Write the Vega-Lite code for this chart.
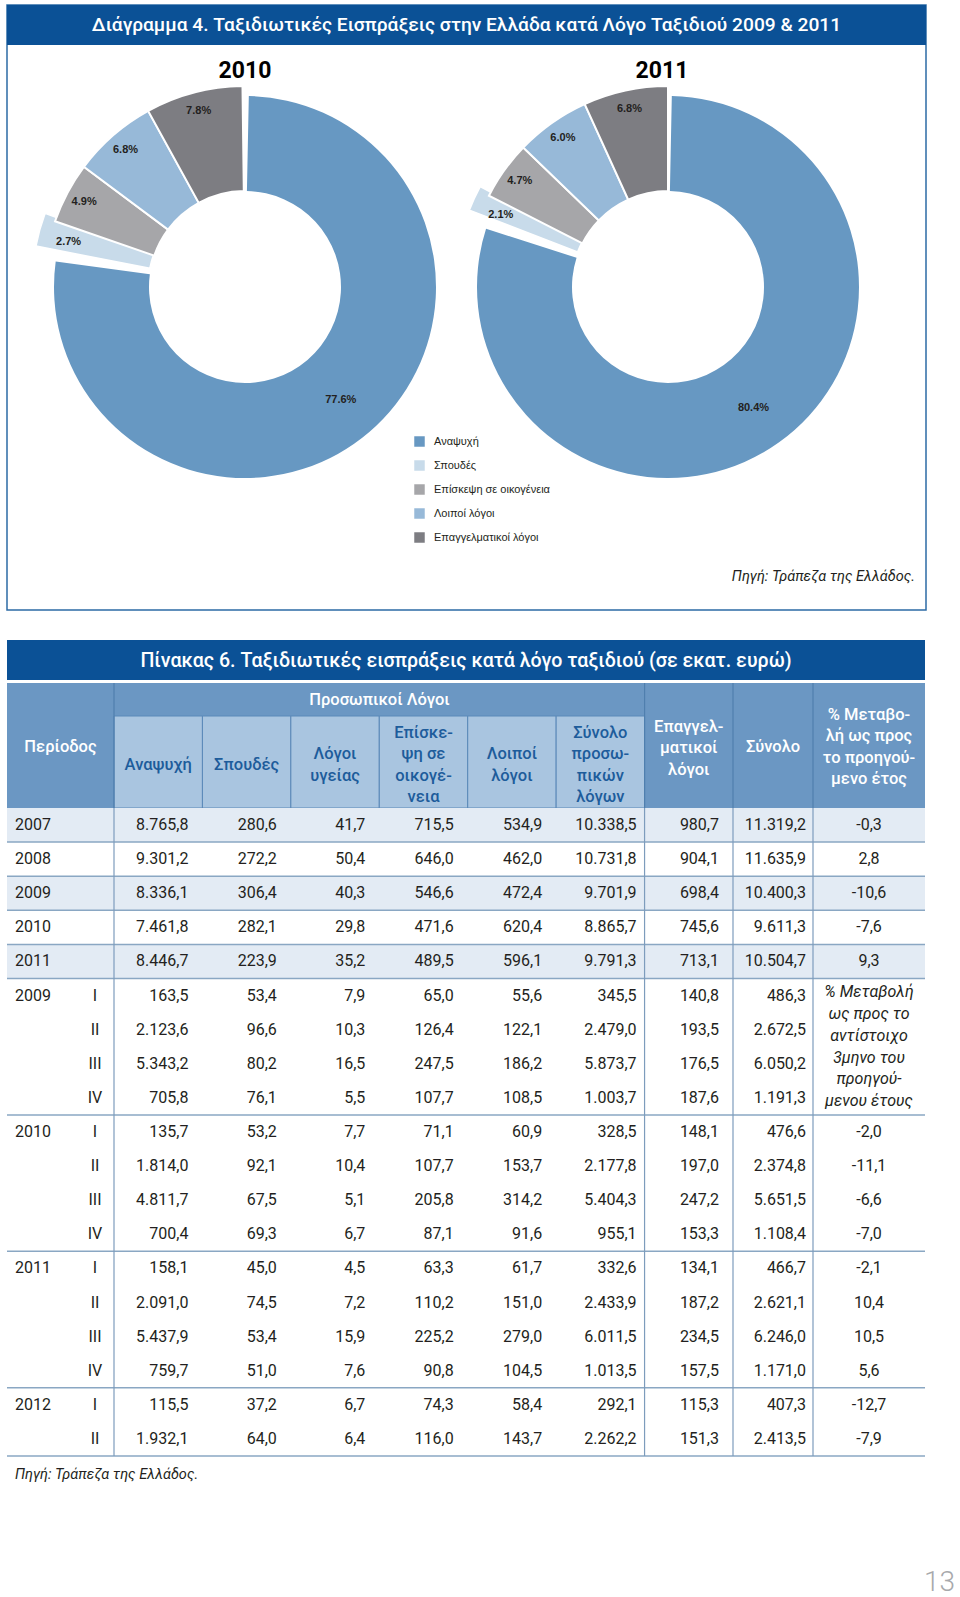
{
  "$schema": "https://vega.github.io/schema/vega-lite/v6.json",
  "width": 960,
  "height": 1597,
  "padding": 0,
  "autosize": {"type": "none"},
  "background": "#ffffff",
  "config": {"view": {"stroke": null}, "axis": {"disable": true}, "font": "Roboto"},
  "datasets": {
    "panels": [
      {"kind": "chart", "title": "Διάγραμμα 4. Ταξιδιωτικές Εισπράξεις στην Ελλάδα κατά Λόγο Ταξιδιού 2009 & 2011", "source": "Πηγή: Τράπεζα της Ελλάδος."},
      {"kind": "table", "title": "Πίνακας 6. Ταξιδιωτικές εισπράξεις κατά λόγο ταξιδιού (σε εκατ. ευρώ)", "source": "Πηγή: Τράπεζα της Ελλάδος."}
    ],
    "donut": [
      {"year": "2010", "reason": "Αναψυχή", "pct": 0.776},
      {"year": "2010", "reason": "Σπουδές", "pct": 0.027},
      {"year": "2010", "reason": "Επίσκεψη σε οικογένεια", "pct": 0.049},
      {"year": "2010", "reason": "Λοιποί λόγοι", "pct": 0.068},
      {"year": "2010", "reason": "Επαγγελματικοί λόγοι", "pct": 0.078},
      {"year": "2011", "reason": "Αναψυχή", "pct": 0.804},
      {"year": "2011", "reason": "Σπουδές", "pct": 0.021},
      {"year": "2011", "reason": "Επίσκεψη σε οικογένεια", "pct": 0.047},
      {"year": "2011", "reason": "Λοιποί λόγοι", "pct": 0.060},
      {"year": "2011", "reason": "Επαγγελματικοί λόγοι", "pct": 0.068}
    ],
    "head": [
      {"col": "period", "level": "full", "label": ["Περίοδος"]},
      {"col": "personal", "level": "top", "label": ["Προσωπικοί Λόγοι"]},
      {"col": "anapsyxi", "level": "sub", "label": ["Αναψυχή"]},
      {"col": "spoudes", "level": "sub", "label": ["Σπουδές"]},
      {"col": "ygeia", "level": "sub", "label": ["Λόγοι", "υγείας"]},
      {"col": "oikogeneia", "level": "sub", "label": ["Επίσκε-", "ψη σε", "οικογέ-", "νεια"]},
      {"col": "loipoi", "level": "sub", "label": ["Λοιποί", "λόγοι"]},
      {"col": "prosopikoi", "level": "sub", "label": ["Σύνολο", "προσω-", "πικών", "λόγων"]},
      {"col": "epaggelmatikoi", "level": "full", "label": ["Επαγγελ-", "ματικοί", "λόγοι"]},
      {"col": "synolo", "level": "full", "label": ["Σύνολο"]},
      {"col": "metaboli", "level": "full", "label": ["% Μεταβο-", "λή ως προς", "το προηγού-", "μενο έτος"]}
    ],
    "rows": [
      {"row": "2007", "year": "2007", "q": "", "anapsyxi": "8.765,8", "spoudes": "280,6", "ygeia": "41,7", "oikogeneia": "715,5", "loipoi": "534,9", "prosopikoi": "10.338,5", "epaggelmatikoi": "980,7", "synolo": "11.319,2", "metaboli": "-0,3"},
      {"row": "2008", "year": "2008", "q": "", "anapsyxi": "9.301,2", "spoudes": "272,2", "ygeia": "50,4", "oikogeneia": "646,0", "loipoi": "462,0", "prosopikoi": "10.731,8", "epaggelmatikoi": "904,1", "synolo": "11.635,9", "metaboli": "2,8"},
      {"row": "2009", "year": "2009", "q": "", "anapsyxi": "8.336,1", "spoudes": "306,4", "ygeia": "40,3", "oikogeneia": "546,6", "loipoi": "472,4", "prosopikoi": "9.701,9", "epaggelmatikoi": "698,4", "synolo": "10.400,3", "metaboli": "-10,6"},
      {"row": "2010", "year": "2010", "q": "", "anapsyxi": "7.461,8", "spoudes": "282,1", "ygeia": "29,8", "oikogeneia": "471,6", "loipoi": "620,4", "prosopikoi": "8.865,7", "epaggelmatikoi": "745,6", "synolo": "9.611,3", "metaboli": "-7,6"},
      {"row": "2011", "year": "2011", "q": "", "anapsyxi": "8.446,7", "spoudes": "223,9", "ygeia": "35,2", "oikogeneia": "489,5", "loipoi": "596,1", "prosopikoi": "9.791,3", "epaggelmatikoi": "713,1", "synolo": "10.504,7", "metaboli": "9,3"},
      {"row": "2009 I", "year": "2009", "q": "I", "anapsyxi": "163,5", "spoudes": "53,4", "ygeia": "7,9", "oikogeneia": "65,0", "loipoi": "55,6", "prosopikoi": "345,5", "epaggelmatikoi": "140,8", "synolo": "486,3", "metaboli": null},
      {"row": "2009 II", "year": "2009", "q": "II", "anapsyxi": "2.123,6", "spoudes": "96,6", "ygeia": "10,3", "oikogeneia": "126,4", "loipoi": "122,1", "prosopikoi": "2.479,0", "epaggelmatikoi": "193,5", "synolo": "2.672,5", "metaboli": null},
      {"row": "2009 III", "year": "2009", "q": "III", "anapsyxi": "5.343,2", "spoudes": "80,2", "ygeia": "16,5", "oikogeneia": "247,5", "loipoi": "186,2", "prosopikoi": "5.873,7", "epaggelmatikoi": "176,5", "synolo": "6.050,2", "metaboli": null},
      {"row": "2009 IV", "year": "2009", "q": "IV", "anapsyxi": "705,8", "spoudes": "76,1", "ygeia": "5,5", "oikogeneia": "107,7", "loipoi": "108,5", "prosopikoi": "1.003,7", "epaggelmatikoi": "187,6", "synolo": "1.191,3", "metaboli": null},
      {"row": "2010 I", "year": "2010", "q": "I", "anapsyxi": "135,7", "spoudes": "53,2", "ygeia": "7,7", "oikogeneia": "71,1", "loipoi": "60,9", "prosopikoi": "328,5", "epaggelmatikoi": "148,1", "synolo": "476,6", "metaboli": "-2,0"},
      {"row": "2010 II", "year": "2010", "q": "II", "anapsyxi": "1.814,0", "spoudes": "92,1", "ygeia": "10,4", "oikogeneia": "107,7", "loipoi": "153,7", "prosopikoi": "2.177,8", "epaggelmatikoi": "197,0", "synolo": "2.374,8", "metaboli": "-11,1"},
      {"row": "2010 III", "year": "2010", "q": "III", "anapsyxi": "4.811,7", "spoudes": "67,5", "ygeia": "5,1", "oikogeneia": "205,8", "loipoi": "314,2", "prosopikoi": "5.404,3", "epaggelmatikoi": "247,2", "synolo": "5.651,5", "metaboli": "-6,6"},
      {"row": "2010 IV", "year": "2010", "q": "IV", "anapsyxi": "700,4", "spoudes": "69,3", "ygeia": "6,7", "oikogeneia": "87,1", "loipoi": "91,6", "prosopikoi": "955,1", "epaggelmatikoi": "153,3", "synolo": "1.108,4", "metaboli": "-7,0"},
      {"row": "2011 I", "year": "2011", "q": "I", "anapsyxi": "158,1", "spoudes": "45,0", "ygeia": "4,5", "oikogeneia": "63,3", "loipoi": "61,7", "prosopikoi": "332,6", "epaggelmatikoi": "134,1", "synolo": "466,7", "metaboli": "-2,1"},
      {"row": "2011 II", "year": "2011", "q": "II", "anapsyxi": "2.091,0", "spoudes": "74,5", "ygeia": "7,2", "oikogeneia": "110,2", "loipoi": "151,0", "prosopikoi": "2.433,9", "epaggelmatikoi": "187,2", "synolo": "2.621,1", "metaboli": "10,4"},
      {"row": "2011 III", "year": "2011", "q": "III", "anapsyxi": "5.437,9", "spoudes": "53,4", "ygeia": "15,9", "oikogeneia": "225,2", "loipoi": "279,0", "prosopikoi": "6.011,5", "epaggelmatikoi": "234,5", "synolo": "6.246,0", "metaboli": "10,5"},
      {"row": "2011 IV", "year": "2011", "q": "IV", "anapsyxi": "759,7", "spoudes": "51,0", "ygeia": "7,6", "oikogeneia": "90,8", "loipoi": "104,5", "prosopikoi": "1.013,5", "epaggelmatikoi": "157,5", "synolo": "1.171,0", "metaboli": "5,6"},
      {"row": "2012 I", "year": "2012", "q": "I", "anapsyxi": "115,5", "spoudes": "37,2", "ygeia": "6,7", "oikogeneia": "74,3", "loipoi": "58,4", "prosopikoi": "292,1", "epaggelmatikoi": "115,3", "synolo": "407,3", "metaboli": "-12,7"},
      {"row": "2012 II", "year": "2012", "q": "II", "anapsyxi": "1.932,1", "spoudes": "64,0", "ygeia": "6,4", "oikogeneia": "116,0", "loipoi": "143,7", "prosopikoi": "2.262,2", "epaggelmatikoi": "151,3", "synolo": "2.413,5", "metaboli": "-7,9"}
    ],
    "note": [
      {"col": "metaboli", "row": "2009 III", "note": ["% Μεταβολή", "ως προς το", "αντίστοιχο", "3μηνο του", "προηγού-", "μενου έτους"]}
    ],
    "page": [{"page": "13"}]
  },
  "resolve": {"scale": {"x": "independent", "y": "independent", "color": "independent", "theta": "independent"}, "legend": {"color": "independent"}},
  "layer": [
    {
      "data": {"name": "panels"},
      "transform": [{"filter": "datum.kind === 'chart'"}],
      "mark": {"type": "rect", "fill": "#ffffff", "fillOpacity": 0, "stroke": "#2d6ba5", "strokeWidth": 1.5},
      "encoding": {
        "x": {"datum": 0, "type": "quantitative", "scale": {"domain": [0, 1], "range": [7, 926]}},
        "x2": {"datum": 1},
        "y": {"datum": 0, "type": "quantitative", "scale": {"domain": [0, 1], "range": [5, 610]}},
        "y2": {"datum": 1}
      }
    },
    {
      "data": {"name": "panels"},
      "transform": [{"filter": "datum.kind === 'chart'"}],
      "mark": {"type": "rect", "color": "#0b5196"},
      "encoding": {
        "x": {"datum": 0, "type": "quantitative", "scale": {"domain": [0, 1], "range": [7, 926]}},
        "x2": {"datum": 1},
        "y": {"datum": 0, "type": "quantitative", "scale": {"domain": [0, 1], "range": [5, 45]}},
        "y2": {"datum": 1}
      }
    },
    {
      "data": {"name": "panels"},
      "transform": [{"filter": "datum.kind === 'chart'"}],
      "mark": {"type": "text", "color": "#ffffff", "font": "Roboto", "fontSize": 19.2, "fontWeight": 500, "align": "center", "baseline": "middle"},
      "encoding": {
        "x": {"datum": 0.5, "type": "quantitative", "scale": {"domain": [0, 1], "range": [7, 926]}},
        "y": {"datum": 0.5, "type": "quantitative", "scale": {"domain": [0, 1], "range": [5, 45]}},
        "text": {"field": "title", "type": "nominal"}
      }
    },
    {
      "data": {"name": "donut"},
      "transform": [{"filter": "datum.reason === 'Αναψυχή'"}],
      "mark": {"type": "text", "color": "#000000", "font": "Roboto", "fontSize": 23, "fontWeight": "bold", "align": "center", "baseline": "middle"},
      "encoding": {
        "x": {"field": "year", "type": "nominal", "scale": {"type": "point", "domain": ["2010", "2011"], "range": [245, 662], "padding": 0}},
        "y": {"field": "year", "type": "nominal", "scale": {"type": "point", "domain": ["2010", "2011"], "range": [71, 71], "padding": 0}},
        "text": {"field": "year", "type": "nominal"}
      }
    },
    {
      "data": {"name": "donut"},
      "transform": [{"stack": "pct", "groupby": ["year"], "as": ["t0", "t1"]}, {"filter": "datum.reason === 'Αναψυχή'"}],
      "mark": {"type": "arc", "radius": 191, "radius2": 96, "thetaOffset": 0.02, "theta2Offset": -0.03},
      "encoding": {
        "x": {"field": "year", "type": "nominal", "scale": {"type": "point", "domain": ["2010", "2011"], "range": [245, 668], "padding": 0}},
        "y": {"field": "year", "type": "nominal", "scale": {"type": "point", "domain": ["2010", "2011"], "range": [287, 287], "padding": 0}},
        "theta": {"field": "t0", "type": "quantitative", "stack": null, "scale": {"domain": [0, 1], "range": [0, 6.283185307179586]}},
        "theta2": {"field": "t1"},
        "color": {
          "field": "reason", "type": "nominal",
          "scale": {"domain": ["Αναψυχή", "Σπουδές", "Επίσκεψη σε οικογένεια", "Λοιποί λόγοι", "Επαγγελματικοί λόγοι"], "range": ["#6798c2", "#c8dbea", "#a6a6a9", "#97b9d8", "#7d7d82"]},
          "legend": {"orient": "none", "legendX": 414, "legendY": 436, "title": null, "padding": 0, "symbolType": "square", "symbolSize": 110, "symbolStrokeWidth": 0, "symbolOpacity": 1, "labelFont": "Liberation Sans", "labelFontSize": 11, "labelColor": "#231f20", "labelOffset": 9, "rowPadding": 12}
        }
      }
    },
    {
      "data": {"name": "donut"},
      "transform": [{"stack": "pct", "groupby": ["year"], "as": ["t0", "t1"]}, {"filter": "datum.reason === 'Σπουδές'"}],
      "mark": {"type": "arc", "radius": 213, "radius2": 97, "stroke": "#ffffff", "strokeWidth": 1.5, "thetaOffset": 0.03, "theta2Offset": 0.02},
      "encoding": {
        "x": {"field": "year", "type": "nominal", "scale": {"type": "point", "domain": ["2010", "2011"], "range": [245, 668], "padding": 0}},
        "y": {"field": "year", "type": "nominal", "scale": {"type": "point", "domain": ["2010", "2011"], "range": [287, 287], "padding": 0}},
        "theta": {"field": "t0", "type": "quantitative", "stack": null, "scale": {"domain": [0, 1], "range": [0, 6.283185307179586]}},
        "theta2": {"field": "t1"},
        "color": {
          "field": "reason", "type": "nominal", "legend": null,
          "scale": {"domain": ["Αναψυχή", "Σπουδές", "Επίσκεψη σε οικογένεια", "Λοιποί λόγοι", "Επαγγελματικοί λόγοι"], "range": ["#6798c2", "#c8dbea", "#a6a6a9", "#97b9d8", "#7d7d82"]}
        }
      }
    },
    {
      "data": {"name": "donut"},
      "transform": [{"stack": "pct", "groupby": ["year"], "as": ["t0", "t1"]}, {"filter": "datum.reason !== 'Σπουδές' && datum.reason !== 'Αναψυχή'"}],
      "mark": {"type": "arc", "radius": 201, "radius2": 96, "stroke": "#ffffff", "strokeWidth": 2},
      "encoding": {
        "x": {"field": "year", "type": "nominal", "scale": {"type": "point", "domain": ["2010", "2011"], "range": [245, 668], "padding": 0}},
        "y": {"field": "year", "type": "nominal", "scale": {"type": "point", "domain": ["2010", "2011"], "range": [287, 287], "padding": 0}},
        "theta": {"field": "t0", "type": "quantitative", "stack": null, "scale": {"domain": [0, 1], "range": [0, 6.283185307179586]}},
        "theta2": {"field": "t1"},
        "color": {
          "field": "reason", "type": "nominal", "legend": null,
          "scale": {"domain": ["Αναψυχή", "Σπουδές", "Επίσκεψη σε οικογένεια", "Λοιποί λόγοι", "Επαγγελματικοί λόγοι"], "range": ["#6798c2", "#c8dbea", "#a6a6a9", "#97b9d8", "#7d7d82"]}
        }
      }
    },
    {
      "data": {"name": "donut"},
      "transform": [{"filter": "datum.year === '2010'"}, {"stack": "pct", "groupby": ["year"], "as": ["t0", "t1"]}],
      "mark": {"type": "text", "radius": 182, "font": "Liberation Sans", "fontWeight": "bold", "fontSize": 11, "color": "#231f20", "align": "center", "baseline": "middle"},
      "encoding": {
        "x": {"field": "year", "type": "nominal", "scale": {"type": "point", "domain": ["2010", "2011"], "range": [245, 668], "padding": 0}},
        "y": {"field": "year", "type": "nominal", "scale": {"type": "point", "domain": ["2010", "2011"], "range": [287, 287], "padding": 0}},
        "theta": {"field": "pct", "type": "quantitative", "stack": true, "scale": {"domain": [0, 1], "range": [0, 6.283185307179586]}},
        "order": {"field": "t0", "type": "quantitative"},
        "text": {"field": "pct", "type": "quantitative", "format": ".1%"},
        "opacity": {"condition": {"test": "datum.reason === 'Αναψυχή'", "value": 0}, "value": 1}
      }
    },
    {
      "data": {"name": "donut"},
      "transform": [{"filter": "datum.year === '2010'"}, {"stack": "pct", "groupby": ["year"], "as": ["t0", "t1"]}],
      "mark": {"type": "text", "radius": 148, "font": "Liberation Sans", "fontWeight": "bold", "fontSize": 11, "color": "#231f20", "align": "center", "baseline": "middle"},
      "encoding": {
        "x": {"field": "year", "type": "nominal", "scale": {"type": "point", "domain": ["2010", "2011"], "range": [245, 668], "padding": 0}},
        "y": {"field": "year", "type": "nominal", "scale": {"type": "point", "domain": ["2010", "2011"], "range": [287, 287], "padding": 0}},
        "theta": {"field": "pct", "type": "quantitative", "stack": true, "scale": {"domain": [0, 1], "range": [0, 6.283185307179586]}},
        "order": {"field": "t0", "type": "quantitative"},
        "text": {"field": "pct", "type": "quantitative", "format": ".1%"},
        "opacity": {"condition": {"test": "datum.reason === 'Αναψυχή'", "value": 1}, "value": 0}
      }
    },
    {
      "data": {"name": "donut"},
      "transform": [{"filter": "datum.year === '2011'"}, {"stack": "pct", "groupby": ["year"], "as": ["t0", "t1"]}],
      "mark": {"type": "text", "radius": 182, "font": "Liberation Sans", "fontWeight": "bold", "fontSize": 11, "color": "#231f20", "align": "center", "baseline": "middle"},
      "encoding": {
        "x": {"field": "year", "type": "nominal", "scale": {"type": "point", "domain": ["2010", "2011"], "range": [245, 668], "padding": 0}},
        "y": {"field": "year", "type": "nominal", "scale": {"type": "point", "domain": ["2010", "2011"], "range": [287, 287], "padding": 0}},
        "theta": {"field": "pct", "type": "quantitative", "stack": true, "scale": {"domain": [0, 1], "range": [0, 6.283185307179586]}},
        "order": {"field": "t0", "type": "quantitative"},
        "text": {"field": "pct", "type": "quantitative", "format": ".1%"},
        "opacity": {"condition": {"test": "datum.reason === 'Αναψυχή'", "value": 0}, "value": 1}
      }
    },
    {
      "data": {"name": "donut"},
      "transform": [{"filter": "datum.year === '2011'"}, {"stack": "pct", "groupby": ["year"], "as": ["t0", "t1"]}],
      "mark": {"type": "text", "radius": 148, "font": "Liberation Sans", "fontWeight": "bold", "fontSize": 11, "color": "#231f20", "align": "center", "baseline": "middle"},
      "encoding": {
        "x": {"field": "year", "type": "nominal", "scale": {"type": "point", "domain": ["2010", "2011"], "range": [245, 668], "padding": 0}},
        "y": {"field": "year", "type": "nominal", "scale": {"type": "point", "domain": ["2010", "2011"], "range": [287, 287], "padding": 0}},
        "theta": {"field": "pct", "type": "quantitative", "stack": true, "scale": {"domain": [0, 1], "range": [0, 6.283185307179586]}},
        "order": {"field": "t0", "type": "quantitative"},
        "text": {"field": "pct", "type": "quantitative", "format": ".1%"},
        "opacity": {"condition": {"test": "datum.reason === 'Αναψυχή'", "value": 1}, "value": 0}
      }
    },
    {
      "data": {"name": "panels"},
      "transform": [{"filter": "datum.kind === 'chart'"}],
      "mark": {"type": "text", "color": "#231f20", "font": "Roboto", "fontSize": 14.5, "fontStyle": "italic", "align": "right", "baseline": "middle", "dx": -11, "dy": -33},
      "encoding": {
        "x": {"datum": 1, "type": "quantitative", "scale": {"domain": [0, 1], "range": [7, 926]}},
        "y": {"datum": 1, "type": "quantitative", "scale": {"domain": [0, 1], "range": [5, 610]}},
        "text": {"field": "source", "type": "nominal"}
      }
    },
    {
      "data": {"name": "panels"},
      "transform": [{"filter": "datum.kind === 'table'"}],
      "mark": {"type": "rect", "color": "#0b5196"},
      "encoding": {
        "x": {"datum": 0, "type": "quantitative", "scale": {"domain": [0, 1], "range": [7, 925]}},
        "x2": {"datum": 1},
        "y": {"datum": 0, "type": "quantitative", "scale": {"domain": [0, 1], "range": [640, 680]}},
        "y2": {"datum": 1}
      }
    },
    {
      "data": {"name": "panels"},
      "transform": [{"filter": "datum.kind === 'table'"}],
      "mark": {"type": "text", "color": "#ffffff", "font": "Roboto", "fontSize": 19.6, "fontWeight": 500, "align": "center", "baseline": "middle"},
      "encoding": {
        "x": {"datum": 0.5, "type": "quantitative", "scale": {"domain": [0, 1], "range": [7, 925]}},
        "y": {"datum": 0.5, "type": "quantitative", "scale": {"domain": [0, 1], "range": [640, 681]}},
        "text": {"field": "title", "type": "nominal"}
      }
    },
    {
      "data": {"name": "panels"},
      "transform": [{"filter": "datum.kind === 'table'"}],
      "mark": {"type": "rect", "color": "#6b97c3"},
      "encoding": {
        "x": {"datum": 0, "type": "quantitative", "scale": {"domain": [0, 1], "range": [7, 925]}},
        "x2": {"datum": 1},
        "y": {"datum": 0, "type": "quantitative", "scale": {"domain": [0, 1], "range": [683, 808]}},
        "y2": {"datum": 1}
      }
    },
    {
      "data": {"name": "head"},
      "transform": [{"filter": "datum.level === 'sub'"}],
      "mark": {"type": "rect", "color": "#a9c5e0", "stroke": "#5a89b8", "strokeWidth": 1},
      "encoding": {
        "x": {"field": "col", "type": "nominal", "scale": {"type": "band", "domain": ["anapsyxi", "spoudes", "ygeia", "oikogeneia", "loipoi", "prosopikoi", "epaggelmatikoi"], "range": [114, 733], "paddingInner": 0, "paddingOuter": 0}},
        "y": {"field": "level", "type": "nominal", "scale": {"type": "band", "domain": ["sub"], "range": [716, 808], "paddingInner": 0, "paddingOuter": 0}}
      }
    },
    {
      "data": {"name": "head"},
      "transform": [{"filter": "datum.col === 'anapsyxi' || datum.col === 'epaggelmatikoi'"}],
      "mark": {"type": "rule", "color": "#4f7fae", "strokeWidth": 1.2},
      "encoding": {
        "x": {"field": "col", "type": "nominal", "bandPosition": 0, "scale": {"type": "band", "domain": ["anapsyxi", "spoudes", "ygeia", "oikogeneia", "loipoi", "prosopikoi", "epaggelmatikoi"], "range": [114, 733], "paddingInner": 0, "paddingOuter": 0}},
        "y": {"datum": 0, "type": "quantitative", "scale": {"domain": [0, 1], "range": [683, 808]}},
        "y2": {"datum": 1}
      }
    },
    {
      "data": {"name": "head"},
      "transform": [{"filter": "datum.col === 'synolo' || datum.col === 'metaboli'"}],
      "mark": {"type": "rule", "color": "#4f7fae", "strokeWidth": 1.2},
      "encoding": {
        "x": {"field": "col", "type": "nominal", "scale": {"type": "point", "domain": ["synolo", "metaboli"], "range": [733, 813], "padding": 0}},
        "y": {"datum": 0, "type": "quantitative", "scale": {"domain": [0, 1], "range": [683, 808]}},
        "y2": {"datum": 1}
      }
    },
    {
      "data": {"name": "head"},
      "transform": [{"filter": "datum.level === 'sub' || datum.col === 'epaggelmatikoi'"}],
      "mark": {"type": "text", "font": "Roboto", "fontSize": 16.5, "fontWeight": 500, "lineHeight": 21.5, "align": "center", "baseline": "middle", "dy": {"expr": "-(length(datum.label) - 1) * 10.75"}},
      "encoding": {
        "x": {"field": "col", "type": "nominal", "scale": {"type": "band", "domain": ["anapsyxi", "spoudes", "ygeia", "oikogeneia", "loipoi", "prosopikoi", "epaggelmatikoi"], "range": [114, 733], "paddingInner": 0, "paddingOuter": 0}},
        "y": {"field": "level", "type": "nominal", "scale": {"type": "point", "domain": ["full", "sub"], "range": [748, 765], "padding": 0}},
        "color": {"field": "level", "type": "nominal", "legend": null, "scale": {"domain": ["full", "sub"], "range": ["#ffffff", "#1d5c9b"]}},
        "text": {"field": "label", "type": "nominal"}
      }
    },
    {
      "data": {"name": "head"},
      "transform": [{"filter": "datum.col === 'synolo'"}],
      "mark": {"type": "text", "font": "Roboto", "fontSize": 16.5, "fontWeight": 500, "lineHeight": 21.5, "align": "center", "baseline": "middle", "color": "#ffffff"},
      "encoding": {
        "x": {"field": "col", "type": "nominal", "scale": {"type": "band", "domain": ["synolo"], "range": [733, 813], "paddingInner": 0, "paddingOuter": 0}},
        "y": {"field": "level", "type": "nominal", "scale": {"type": "point", "domain": ["full"], "range": [747, 747], "padding": 0}},
        "text": {"field": "label", "type": "nominal"}
      }
    },
    {
      "data": {"name": "head"},
      "transform": [{"filter": "datum.col === 'metaboli'"}],
      "mark": {"type": "text", "font": "Roboto", "fontSize": 16.5, "fontWeight": 500, "lineHeight": 21.5, "align": "center", "baseline": "middle", "color": "#ffffff", "dy": {"expr": "-(length(datum.label) - 1) * 10.75"}},
      "encoding": {
        "x": {"field": "col", "type": "nominal", "scale": {"type": "band", "domain": ["metaboli"], "range": [813, 925], "paddingInner": 0, "paddingOuter": 0}},
        "y": {"field": "level", "type": "nominal", "scale": {"type": "point", "domain": ["full"], "range": [747, 747], "padding": 0}},
        "text": {"field": "label", "type": "nominal"}
      }
    },
    {
      "data": {"name": "head"},
      "transform": [{"filter": "datum.col === 'period'"}],
      "mark": {"type": "text", "font": "Roboto", "fontSize": 16.5, "fontWeight": 500, "lineHeight": 21.5, "align": "center", "baseline": "middle", "color": "#ffffff"},
      "encoding": {
        "x": {"field": "col", "type": "nominal", "scale": {"type": "band", "domain": ["period"], "range": [7, 114], "paddingInner": 0, "paddingOuter": 0}},
        "y": {"field": "level", "type": "nominal", "scale": {"type": "point", "domain": ["full"], "range": [747, 747], "padding": 0}},
        "text": {"field": "label", "type": "nominal"}
      }
    },
    {
      "data": {"name": "head"},
      "transform": [{"filter": "datum.col === 'personal'"}],
      "mark": {"type": "text", "font": "Roboto", "fontSize": 16.5, "fontWeight": 500, "align": "center", "baseline": "middle", "color": "#ffffff"},
      "encoding": {
        "x": {"field": "col", "type": "nominal", "scale": {"type": "band", "domain": ["personal"], "range": [114, 645], "paddingInner": 0, "paddingOuter": 0}},
        "y": {"field": "level", "type": "nominal", "scale": {"type": "point", "domain": ["top"], "range": [700, 700], "padding": 0}},
        "text": {"field": "label", "type": "nominal"}
      }
    },
    {
      "data": {"name": "rows"},
      "transform": [{"filter": "datum.q === '' && (datum.year === '2007' || datum.year === '2009' || datum.year === '2011')"}],
      "mark": {"type": "rect", "color": "#e3ebf4"},
      "encoding": {
        "x": {"datum": 0, "type": "quantitative", "scale": {"domain": [0, 1], "range": [7, 925]}},
        "x2": {"datum": 1},
        "y": {"field": "row", "type": "nominal", "scale": {"type": "band", "domain": ["2007", "2008", "2009", "2010", "2011", "2009 I", "2009 II", "2009 III", "2009 IV", "2010 I", "2010 II", "2010 III", "2010 IV", "2011 I", "2011 II", "2011 III", "2011 IV", "2012 I", "2012 II"], "range": [808, 1456], "paddingInner": 0, "paddingOuter": 0}}
      }
    },
    {
      "data": {"name": "rows"},
      "transform": [{"filter": "datum.q === '' || datum.q === 'IV' || datum.row === '2012 II'"}],
      "mark": {"type": "rule", "color": "#8aa7c3", "strokeWidth": 1.5},
      "encoding": {
        "x": {"datum": 0, "type": "quantitative", "scale": {"domain": [0, 1], "range": [7, 925]}},
        "x2": {"datum": 1},
        "y": {"field": "row", "type": "nominal", "bandPosition": 1, "scale": {"type": "band", "domain": ["2007", "2008", "2009", "2010", "2011", "2009 I", "2009 II", "2009 III", "2009 IV", "2010 I", "2010 II", "2010 III", "2010 IV", "2011 I", "2011 II", "2011 III", "2011 IV", "2012 I", "2012 II"], "range": [808, 1456], "paddingInner": 0, "paddingOuter": 0}}
      }
    },
    {
      "data": {"name": "head"},
      "transform": [{"filter": "datum.col === 'anapsyxi' || datum.col === 'epaggelmatikoi'"}],
      "mark": {"type": "rule", "color": "#7d9cbc", "strokeWidth": 1.2},
      "encoding": {
        "x": {"field": "col", "type": "nominal", "bandPosition": 0, "scale": {"type": "band", "domain": ["anapsyxi", "spoudes", "ygeia", "oikogeneia", "loipoi", "prosopikoi", "epaggelmatikoi"], "range": [114, 733], "paddingInner": 0, "paddingOuter": 0}},
        "y": {"datum": 0, "type": "quantitative", "scale": {"domain": [0, 1], "range": [808, 1456]}},
        "y2": {"datum": 1}
      }
    },
    {
      "data": {"name": "head"},
      "transform": [{"filter": "datum.col === 'synolo' || datum.col === 'metaboli'"}],
      "mark": {"type": "rule", "color": "#7d9cbc", "strokeWidth": 1.2},
      "encoding": {
        "x": {"field": "col", "type": "nominal", "scale": {"type": "point", "domain": ["synolo", "metaboli"], "range": [733, 813], "padding": 0}},
        "y": {"datum": 0, "type": "quantitative", "scale": {"domain": [0, 1], "range": [808, 1456]}},
        "y2": {"datum": 1}
      }
    },
    {
      "data": {"name": "rows"},
      "transform": [
        {"fold": ["year", "q"], "as": ["part", "lbl"]},
        {"filter": "(datum.part === 'year' && (datum.q === '' || datum.q === 'I')) || (datum.part === 'q' && datum.q !== '')"}
      ],
      "mark": {"type": "text", "font": "Roboto", "fontSize": 16, "color": "#231f20", "align": "center", "baseline": "middle"},
      "encoding": {
        "x": {"field": "part", "type": "nominal", "scale": {"type": "point", "domain": ["year", "q"], "range": [33, 95], "padding": 0}},
        "y": {"field": "row", "type": "nominal", "scale": {"type": "band", "domain": ["2007", "2008", "2009", "2010", "2011", "2009 I", "2009 II", "2009 III", "2009 IV", "2010 I", "2010 II", "2010 III", "2010 IV", "2011 I", "2011 II", "2011 III", "2011 IV", "2012 I", "2012 II"], "range": [808, 1456], "paddingInner": 0, "paddingOuter": 0}},
        "text": {"field": "lbl", "type": "nominal"}
      }
    },
    {
      "data": {"name": "rows"},
      "transform": [{"fold": ["anapsyxi", "spoudes", "ygeia", "oikogeneia", "loipoi", "epaggelmatikoi"], "as": ["col", "val"]}],
      "mark": {"type": "text", "font": "Roboto", "fontSize": 16, "color": "#231f20", "align": "right", "baseline": "middle", "dx": -14},
      "encoding": {
        "x": {"field": "col", "type": "nominal", "bandPosition": 1, "scale": {"type": "band", "domain": ["anapsyxi", "spoudes", "ygeia", "oikogeneia", "loipoi", "prosopikoi", "epaggelmatikoi"], "range": [114, 733], "paddingInner": 0, "paddingOuter": 0}},
        "y": {"field": "row", "type": "nominal", "scale": {"type": "band", "domain": ["2007", "2008", "2009", "2010", "2011", "2009 I", "2009 II", "2009 III", "2009 IV", "2010 I", "2010 II", "2010 III", "2010 IV", "2011 I", "2011 II", "2011 III", "2011 IV", "2012 I", "2012 II"], "range": [808, 1456], "paddingInner": 0, "paddingOuter": 0}},
        "text": {"field": "val", "type": "nominal"}
      }
    },
    {
      "data": {"name": "rows"},
      "transform": [{"fold": ["prosopikoi"], "as": ["col", "val"]}],
      "mark": {"type": "text", "font": "Roboto", "fontSize": 16, "color": "#231f20", "align": "right", "baseline": "middle", "dx": -8},
      "encoding": {
        "x": {"field": "col", "type": "nominal", "bandPosition": 1, "scale": {"type": "band", "domain": ["anapsyxi", "spoudes", "ygeia", "oikogeneia", "loipoi", "prosopikoi", "epaggelmatikoi"], "range": [114, 733], "paddingInner": 0, "paddingOuter": 0}},
        "y": {"field": "row", "type": "nominal", "scale": {"type": "band", "domain": ["2007", "2008", "2009", "2010", "2011", "2009 I", "2009 II", "2009 III", "2009 IV", "2010 I", "2010 II", "2010 III", "2010 IV", "2011 I", "2011 II", "2011 III", "2011 IV", "2012 I", "2012 II"], "range": [808, 1456], "paddingInner": 0, "paddingOuter": 0}},
        "text": {"field": "val", "type": "nominal"}
      }
    },
    {
      "data": {"name": "rows"},
      "transform": [{"fold": ["synolo"], "as": ["col", "val"]}],
      "mark": {"type": "text", "font": "Roboto", "fontSize": 16, "color": "#231f20", "align": "right", "baseline": "middle", "dx": -7},
      "encoding": {
        "x": {"field": "col", "type": "nominal", "bandPosition": 1, "scale": {"type": "band", "domain": ["synolo"], "range": [733, 813], "paddingInner": 0, "paddingOuter": 0}},
        "y": {"field": "row", "type": "nominal", "scale": {"type": "band", "domain": ["2007", "2008", "2009", "2010", "2011", "2009 I", "2009 II", "2009 III", "2009 IV", "2010 I", "2010 II", "2010 III", "2010 IV", "2011 I", "2011 II", "2011 III", "2011 IV", "2012 I", "2012 II"], "range": [808, 1456], "paddingInner": 0, "paddingOuter": 0}},
        "text": {"field": "val", "type": "nominal"}
      }
    },
    {
      "data": {"name": "rows"},
      "transform": [{"fold": ["metaboli"], "as": ["col", "val"]}, {"filter": "datum.val != null"}],
      "mark": {"type": "text", "font": "Roboto", "fontSize": 16, "color": "#231f20", "align": "center", "baseline": "middle"},
      "encoding": {
        "x": {"field": "col", "type": "nominal", "scale": {"type": "band", "domain": ["metaboli"], "range": [813, 925], "paddingInner": 0, "paddingOuter": 0}},
        "y": {"field": "row", "type": "nominal", "scale": {"type": "band", "domain": ["2007", "2008", "2009", "2010", "2011", "2009 I", "2009 II", "2009 III", "2009 IV", "2010 I", "2010 II", "2010 III", "2010 IV", "2011 I", "2011 II", "2011 III", "2011 IV", "2012 I", "2012 II"], "range": [808, 1456], "paddingInner": 0, "paddingOuter": 0}},
        "text": {"field": "val", "type": "nominal"}
      }
    },
    {
      "data": {"name": "note"},
      "mark": {"type": "text", "font": "Roboto", "fontSize": 16, "fontStyle": "italic", "lineHeight": 21.7, "color": "#231f20", "align": "center", "baseline": "middle", "dy": {"expr": "-(length(datum.note) - 1) * 10.85"}},
      "encoding": {
        "x": {"field": "col", "type": "nominal", "scale": {"type": "band", "domain": ["metaboli"], "range": [813, 925], "paddingInner": 0, "paddingOuter": 0}},
        "y": {"field": "row", "type": "nominal", "bandPosition": 0, "scale": {"type": "band", "domain": ["2007", "2008", "2009", "2010", "2011", "2009 I", "2009 II", "2009 III", "2009 IV", "2010 I", "2010 II", "2010 III", "2010 IV", "2011 I", "2011 II", "2011 III", "2011 IV", "2012 I", "2012 II"], "range": [808, 1456], "paddingInner": 0, "paddingOuter": 0}},
        "text": {"field": "note", "type": "nominal"}
      }
    },
    {
      "data": {"name": "panels"},
      "transform": [{"filter": "datum.kind === 'table'"}],
      "mark": {"type": "text", "color": "#231f20", "font": "Roboto", "fontSize": 14.5, "fontStyle": "italic", "align": "left", "baseline": "middle", "dx": 8, "dy": 19},
      "encoding": {
        "x": {"datum": 0, "type": "quantitative", "scale": {"domain": [0, 1], "range": [7, 925]}},
        "y": {"datum": 1, "type": "quantitative", "scale": {"domain": [0, 1], "range": [808, 1456]}},
        "text": {"field": "source", "type": "nominal"}
      }
    },
    {
      "data": {"name": "page"},
      "mark": {"type": "text", "color": "#a7a9ac", "font": "Roboto", "fontSize": 28, "fontWeight": 300, "align": "right", "baseline": "middle", "dx": -5, "dy": -14},
      "encoding": {
        "x": {"datum": 1, "type": "quantitative", "scale": {"domain": [0, 1], "range": [0, 960]}},
        "y": {"datum": 1, "type": "quantitative", "scale": {"domain": [0, 1], "range": [0, 1597]}},
        "text": {"field": "page", "type": "nominal"}
      }
    }
  ]
}
